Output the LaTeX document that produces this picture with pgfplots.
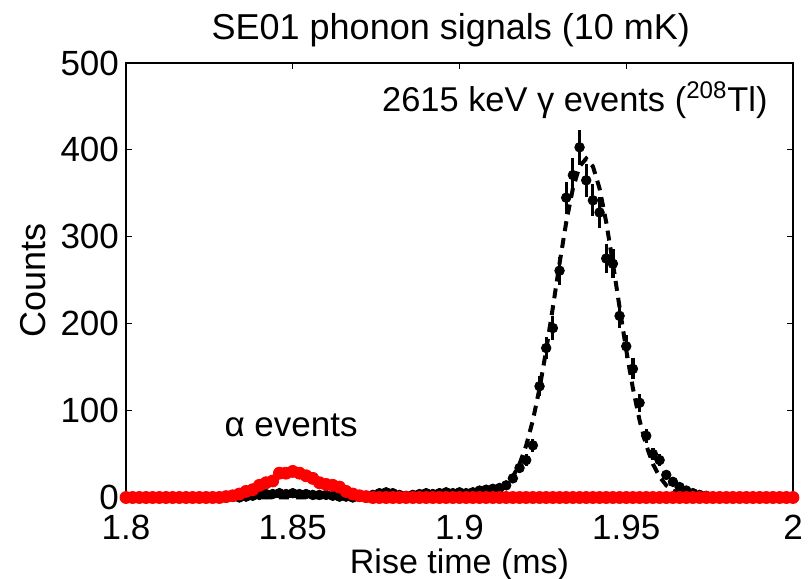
\documentclass[border=0pt]{standalone}
\usepackage{fontspec}
\setmainfont{Liberation Sans}
\usepackage{pgfplots}
\usepackage{pgfplotstable}
\pgfplotsset{compat=1.18}

% gamma data: x, counts, error
\pgfplotstableread{
x y e
1.800 0 0
1.802 0 0
1.804 1 1
1.806 0 0
1.808 0 0
1.810 1 1
1.812 0 0
1.814 0 0
1.816 1 1
1.818 0 0
1.820 0 0
1.822 1 1
1.824 0 0
1.826 0 0
1.828 1 1
1.830 0 0
1.832 1 1
1.834 0 0
1.836 1 1
1.838 2 1.4
1.840 3 1.7
1.842 4 2
1.844 4 2
1.846 5 2.2
1.848 4 2
1.850 5 2.2
1.852 4 2
1.854 4 2
1.856 3 1.7
1.858 3 1.7
1.860 3 1.7
1.862 2 1.4
1.864 1 1
1.866 1 1
1.868 0 0
1.870 1 1
1.872 2 1.4
1.874 3 1.7
1.876 5 2.2
1.878 6 2.4
1.880 5 2.2
1.882 3 1.7
1.884 2 1.4
1.886 3 1.7
1.888 4 2
1.890 5 2.2
1.892 4 2
1.894 5 2.2
1.896 6 2.4
1.898 5 2.2
1.900 6 2.4
1.902 5 2.2
1.904 6 2.4
1.906 8 2.8
1.908 9 3
1.910 10 3.2
1.912 11 3.3
1.914 14 3.7
1.916 22 4.7
1.918 34 5.8
1.920 43 6.6
1.922 60 7.7
1.924 128 11.3
1.926 172 13.1
1.928 195 14
1.930 261 16.2
1.932 345 18.6
1.934 371 19.3
1.936 403 20.1
1.938 365 19.1
1.940 342 18.5
1.942 328 18.1
1.944 275 16.6
1.946 269 16.4
1.948 209 14.5
1.950 174 13.2
1.952 148 12.2
1.954 109 10.4
1.956 71 8.4
1.958 50 7.1
1.960 43 6.6
1.962 26 5.1
1.964 18 4.2
1.966 12 3.5
1.968 8 2.8
1.970 5 2.2
1.972 3 1.7
1.974 2 1.4
1.976 1 1
1.978 1 1
1.980 0 0
1.982 1 1
1.984 0 0
1.986 1 1
1.988 0 0
1.990 1 1
1.992 0 0
1.994 1 1
1.996 0 0
1.998 1 1
2.000 0 0
}\gammadata

% alpha data
\pgfplotstableread{
x y
1.800 0
1.802 0
1.804 0
1.806 0
1.808 0
1.810 0
1.812 0
1.814 0
1.816 0
1.818 0
1.820 0
1.822 0
1.824 0
1.826 0
1.828 0
1.830 1
1.832 2
1.834 4
1.836 7
1.838 9
1.840 14
1.842 17
1.844 19
1.846 28
1.848 28
1.850 30
1.852 28
1.854 25
1.856 22
1.858 17
1.860 15
1.862 14
1.864 12
1.866 7
1.868 4
1.870 2
1.872 1
1.874 0
1.876 0
1.878 0
1.880 0
1.882 0
1.884 0
1.886 0
1.888 0
1.890 0
1.892 0
1.894 0
1.896 0
1.898 0
1.900 0
1.902 0
1.904 0
1.906 0
1.908 0
1.910 0
1.912 0
1.914 0
1.916 0
1.918 0
1.920 0
1.922 0
1.924 0
1.926 0
1.928 0
1.930 0
1.932 0
1.934 0
1.936 0
1.938 0
1.940 0
1.942 0
1.944 0
1.946 0
1.948 0
1.950 0
1.952 0
1.954 0
1.956 0
1.958 0
1.960 0
1.962 0
1.964 0
1.966 0
1.968 0
1.970 0
1.972 0
1.974 0
1.976 0
1.978 0
1.980 0
1.982 0
1.984 0
1.986 0
1.988 0
1.990 0
1.992 0
1.994 0
1.996 0
1.998 0
2.000 0
}\alphadata

% gaussian fit curve (read values)
\pgfplotstableread{
x y
1.800 0
1.900 0.1
1.904 0.5
1.906 1.0
1.908 2.1
1.910 4.2
1.912 7.8
1.914 14.0
1.916 23.8
1.918 38.6
1.920 59.9
1.922 88.8
1.924 125.6
1.926 169.6
1.928 218.8
1.930 269.4
1.932 316.7
1.934 355.6
1.936 381.1
1.938 390.0
1.940 381.1
1.942 355.6
1.944 316.7
1.946 269.4
1.948 218.8
1.950 169.6
1.952 125.6
1.954 88.8
1.956 59.9
1.958 38.6
1.960 23.8
1.962 14.0
1.964 7.8
1.966 4.2
1.968 2.1
1.970 1.0
1.972 0.5
1.976 0.1
2.000 0
}\fitdata

\begin{document}
\begin{tikzpicture}
\useasboundingbox (-63pt,-40.75pt) rectangle (342pt,248.75pt);
\begin{axis}[
  scale only axis, width=333.5pt, height=217.25pt,
  xmin=1.8, xmax=2, ymin=0, ymax=500,
  xtick={1.8,1.85,1.9,1.95,2},
  xticklabels={1.8,1.85,1.9,1.95,2},
  ytick={0,100,200,300,400,500},
  tick align=inside, major tick length=3pt,
  tick style={black, line width=0.5pt},
  axis line style={line width=0.6pt},
  /pgf/number format/assume math mode=true,
  tick label style={font=\fontsize{17.5}{19}\selectfont},
  xticklabel style={yshift=-5pt},
  xlabel={Rise time (ms)},
  ylabel={Counts},
  xlabel style={font=\fontsize{17}{19}\selectfont, at={(axis description cs:0.5,-0.1542)}, anchor=center},
  ylabel style={font=\fontsize{18}{20}\selectfont, at={(axis description cs:-0.1387,0.5)}, anchor=center},
  title={SE01 phonon signals (10 mK)},
  title style={font=\fontsize{18}{20}\selectfont, at={(axis description cs:0.487,1.0771)}, anchor=center, yshift=-6.5pt},
  clip=false,
]
\addplot[only marks, mark=*, black, mark size=2.4pt,
  error bars/.cd, y dir=both, y explicit,
  error bar style={line width=1.6pt}, error mark=none]
  table[x=x, y=y, y error=e]{\gammadata};
\addplot[only marks, mark=*, red, mark size=3pt] table[x=x, y=y]{\alphadata};
\addplot[black, line width=2pt, dash pattern=on 5pt off 3.5pt] table[x=x, y=y]{\fitdata};
\node[font=\fontsize{17.2}{19}\selectfont] at (axis cs:1.9346,457) {2615 keV γ events (\textsuperscript{208}Tl)};
\node[font=\fontsize{17.5}{19}\selectfont] at (axis cs:1.8495,83) {α events};
\end{axis}
\end{tikzpicture}
\end{document}
